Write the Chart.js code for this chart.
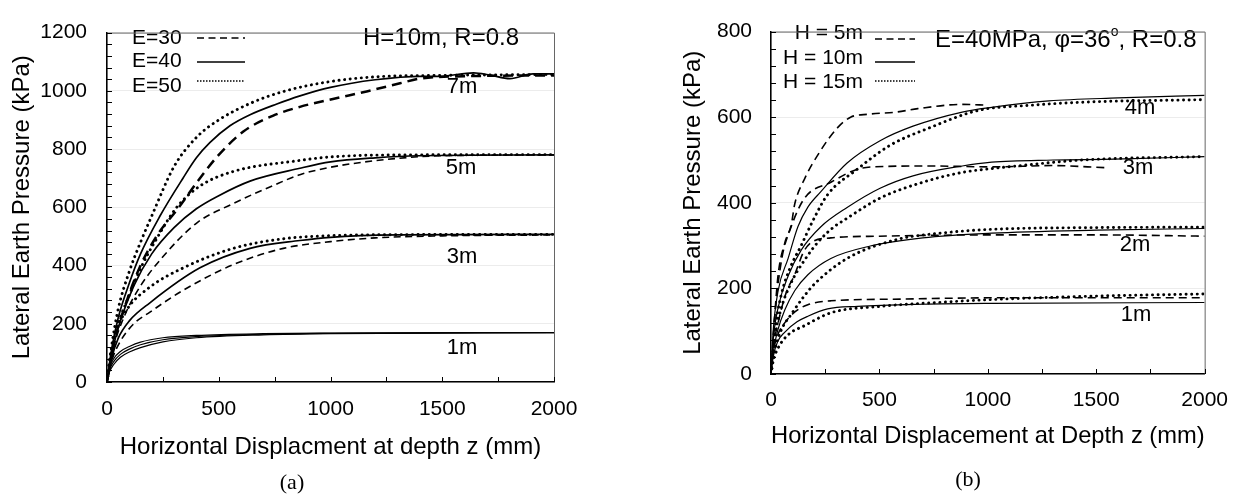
<!DOCTYPE html>
<html>
<head>
<meta charset="utf-8">
<script src="https://cdn.jsdelivr.net/npm/chart.js@4.4.1/dist/chart.umd.min.js"></script>
<style>
  html, body { margin: 0; padding: 0; background: #fff; }
  .wrap { position: relative; width: 1242px; height: 495px; }
  .panel { position: absolute; top: 0; height: 495px; }
  #panelA { left: 0; width: 610px; }
  #panelB { left: 610px; width: 632px; }
</style>
</head>
<body>
<div class="wrap">
  <div class="panel" id="panelA"><canvas id="chartA" width="610" height="495"></canvas></div>
  <div class="panel" id="panelB"><canvas id="chartB" width="632" height="495"></canvas></div>
</div>
<script>
// ---- (a) H=10m, R=0.8 : depth 1/3/5/7 m, E = 30/40/50 MPa  [displacement mm, pressure kPa]
const a1_E30 = [[0,0],[10,32],[30,60],[60,85],[100,103],[150,118],[250,138],[400,152],[700,162],[1000,166],[2000,169]];
const a1_E40 = [[0,0],[10,38],[30,70],[60,95],[100,113],[150,128],[250,145],[400,156],[700,164],[1000,167],[2000,170]];
const a1_E50 = [[0,0],[10,45],[30,80],[60,105],[100,122],[150,137],[250,152],[400,160],[700,166],[1000,168],[2000,170]];

const a3_E30 = [[0,0],[20,70],[60,140],[120,200],[192,240],[341,315],[565,403],[789,459],[1000,482],[1200,495],[1500,502],[2000,505]];
const a3_E40 = [[0,0],[20,80],[50,150],[100,210],[192,272],[416,392],[640,459],[863,486],[1000,497],[1300,505],[2000,507]];
const a3_E50 = [[0,0],[15,90],[40,170],[90,250],[192,326],[341,392],[565,459],[789,492],[983,502],[1300,506],[2000,507]];

const a5_E30 = [[0,0],[30,120],[80,230],[150,330],[250,430],[401,546],[565,613],[744,675],[863,712],[983,735],[1200,760],[1490,777],[2000,780]];
const a5_E40 = [[0,0],[25,110],[60,210],[120,330],[200,440],[300,530],[400,595],[500,640],[640,690],[863,734],[1000,756],[1200,770],[1400,777],[2000,780]];
const a5_E50 = [[0,0],[20,110],[50,200],[90,280],[150,390],[222,492],[312,600],[416,673],[565,723],[863,761],[983,772],[1200,779],[2000,781]];

const a7_E30 = [[0,0],[30,130],[80,260],[150,400],[230,510],[312,590],[416,700],[500,780],[610,860],[744,915],[863,945],[1011,972],[1162,998],[1311,1026],[1400,1042],[1600,1050],[2000,1053]];
const a7_E40 = [[0,0],[20,110],[50,220],[100,340],[150,440],[237,570],[340,700],[400,770],[460,822],[550,880],[640,918],[760,955],[860,982],[1000,1012],[1200,1038],[1400,1050],[1490,1050],[1640,1062],[1714,1054],[1803,1042],[1906,1058],[2000,1058]];
const a7_E50 = [[0,0],[20,120],[50,250],[100,380],[150,480],[200,570],[300,740],[400,840],[500,900],[650,960],[800,1000],[1000,1032],[1200,1048],[1500,1053],[2000,1056]];

// ---- (b) E=40MPa, phi=36, R=0.8 : depth 1/2/3/4 m, H = 5/10/15 m
const b1_H5  = [[0,0],[10,50],[30,90],[64,120],[110,145],[170,162],[276,171],[600,175],[1018,178],[2000,178]];
const b1_H10 = [[0,0],[10,40],[30,75],[64,98],[120,122],[170,135],[261,152],[400,158],[700,163],[1018,165],[2000,167]];
const b1_H15 = [[0,0],[10,30],[33,61],[80,92],[155,113],[276,143],[503,158],[800,168],[1018,174],[1500,182],[2000,187]];

const b2_H5  = [[0,0],[10,60],[33,120],[70,190],[109,232],[150,285],[185,307],[276,318],[500,322],[1018,325],[1500,325],[2000,322]];
const b2_H10 = [[0,0],[10,50],[30,100],[64,150],[110,195],[170,232],[276,270],[458,299],[700,318],[1018,329],[1500,336],[2000,340]];
const b2_H15 = [[0,0],[15,50],[45,100],[94,140],[150,180],[200,210],[351,270],[579,314],[800,330],[1018,338],[1500,342],[2000,343]];

const b3_H5  = [[0,0],[20,150],[50,270],[90,340],[155,411],[276,448],[395,478],[473,484],[730,486],[1018,484],[1300,487],[1541,482]];
const b3_H10 = [[0,0],[10,80],[35,160],[80,230],[140,290],[230,344],[351,389],[503,434],[655,463],[882,486],[1018,495],[1300,500],[1586,502],[2000,508]];
const b3_H15 = [[0,0],[10,60],[40,140],[90,210],[160,270],[220,310],[291,344],[336,359],[503,411],[700,448],[882,471],[1018,480],[1132,486],[1435,500],[2000,508]];

const b4_H5  = [[0,0],[15,120],[33,232],[64,307],[94,350],[109,396],[155,456],[230,523],[306,575],[367,600],[450,607],[579,612],[677,620],[882,630],[1000,628]];
const b4_H10 = [[0,0],[10,100],[33,195],[79,270],[124,344],[170,390],[230,426],[351,493],[503,545],[655,579],[882,612],[1018,623],[1282,638],[1600,645],[2000,651]];
const b4_H15 = [[0,0],[15,90],[45,180],[90,250],[139,300],[190,355],[261,419],[397,478],[548,534],[730,575],[958,616],[1200,628],[1435,635],[2000,641]];

const legendA = ['E=30', 'E=40', 'E=50'];
const legendB = ['H = 5m', 'H = 10m', 'H = 15m'];
const depthA = ['1m', '3m', '5m', '7m'];
const depthB = ['1m', '2m', '3m', '4m'];

Chart.defaults.font.family = '"Liberation Sans", Arial, Helvetica, sans-serif';
Chart.defaults.color = '#000';
Chart.defaults.animation = false;

const STYLES = {
  dash:  { borderDash: [7, 4.5], borderWidth: 1.6 },
  dashB: { borderDash: [8, 5], borderWidth: 1.6 },
  dashH: { borderDash: [10, 6], borderWidth: 2.5 },
  solid: { borderDash: [], borderWidth: 1.7 },
  thin:  { borderDash: [], borderWidth: 1.2 },
  dot:   { borderDash: [0.1, 5.5], borderWidth: 2.9, borderCapStyle: 'round' }
};

function series(points, style) {
  return Object.assign({
    data: points.map(p => ({ x: p[0], y: p[1] })),
    borderColor: '#000',
    pointRadius: 0,
    fill: false,
    cubicInterpolationMode: 'monotone'
  }, STYLES[style]);
}

// inward minor ticks + gray frame on top/right
const frameTicks = {
  id: 'frameTicks',
  afterDraw(chart, args, o) {
    const { ctx, chartArea: a, scales: { x, y } } = chart;
    ctx.save();
    ctx.strokeStyle = '#666';
    ctx.lineWidth = 1;
    ctx.beginPath();
    ctx.moveTo(a.left, a.top + 0.5); ctx.lineTo(a.right + 0.5, a.top + 0.5);
    ctx.lineTo(a.right + 0.5, a.bottom);
    ctx.stroke();
    ctx.strokeStyle = '#000';
    ctx.beginPath();
    for (let v = x.min; v <= x.max; v += o.xMinor) {
      const px = Math.round(x.getPixelForValue(v)) + 0.5;
      ctx.moveTo(px, a.bottom); ctx.lineTo(px, a.bottom - 5);
    }
    for (let v = y.min; v <= y.max; v += o.yMinor) {
      const py = Math.round(y.getPixelForValue(v)) + 0.5;
      ctx.moveTo(a.left, py); ctx.lineTo(a.left + 5, py);
    }
    ctx.stroke();
    ctx.restore();
  }
};

// legend samples, notes and depth labels
const notes = {
  id: 'notes',
  afterDatasetsDraw(chart, args, o) {
    const { ctx } = chart;
    ctx.save();
    ctx.fillStyle = '#000';
    ctx.textBaseline = 'middle';
    ctx.font = '21px "Liberation Sans", Arial';
    ctx.textAlign = o.legend.align;
    const samples = [STYLES.dash, STYLES.solid, { borderDash: [1.5, 1.5], borderWidth: 1.6 }];
    o.legend.items.forEach((t, i) => {
      const r = o.legend.rows[i];
      ctx.fillText(t, o.legend.textX, r[0]);
      ctx.beginPath();
      ctx.setLineDash(samples[i].borderDash);
      ctx.lineWidth = samples[i].borderWidth;
      ctx.strokeStyle = '#000';
      ctx.moveTo(o.legend.x0, r[1]); ctx.lineTo(o.legend.x1, r[1]);
      ctx.stroke();
    });
    ctx.setLineDash([]);
    ctx.font = '22px "Liberation Sans", Arial';
    ctx.textAlign = 'center';
    o.depths.forEach(d => ctx.fillText(d.text, d.x, d.y));
    const big = '24px "Liberation Sans", Arial';
    ctx.font = big;
    ctx.textAlign = 'left';
    let cx = o.note.x;
    o.note.parts.forEach(p => {
      if (p.sup) {
        ctx.font = '14px "Liberation Sans", Arial';
        ctx.fillText(p.text, cx, o.note.y - 8);
        cx += ctx.measureText(p.text).width;
        ctx.font = big;
      } else {
        ctx.fillText(p.text, cx, o.note.y);
        cx += ctx.measureText(p.text).width;
      }
    });
    ctx.font = '22px "Liberation Serif", "Times New Roman", serif';
    ctx.textAlign = 'center';
    ctx.fillText(o.tag.text, o.tag.x, o.tag.y);
    ctx.restore();
  }
};

function axes(cfg) {
  return {
    x: {
      type: 'linear', min: 0, max: 2000,
      afterFit: s => { s.height = cfg.xHeight; },
      ticks: { stepSize: 500, padding: cfg.xPad, font: { size: 21 }, maxRotation: 0, callback: v => String(v) },
      grid: { drawOnChartArea: false, drawTicks: false },
      border: { color: '#000', width: 1.6 },
      title: { display: true, text: cfg.xTitle, font: { size: 24 }, padding: { top: 0, bottom: cfg.xTitlePad } }
    },
    y: {
      type: 'linear', min: 0, max: cfg.yMax,
      afterFit: s => { s.width = cfg.yWidth; },
      ticks: { stepSize: 200, padding: cfg.yPad, font: { size: 21 }, callback: v => String(v) },
      grid: { color: '#ececec', drawTicks: false },
      border: { color: '#000', width: 1.6 },
      title: { display: true, text: 'Lateral Earth Pressure (kPa)', font: { size: 24 }, padding: { top: cfg.yTitlePad, bottom: 0 } }
    }
  };
}

new Chart(document.getElementById('chartA'), {
  type: 'line',
  data: {
    datasets: [
      series(a1_E30, 'thin'), series(a1_E40, 'thin'), series(a1_E50, 'thin'),
      series(a3_E30, 'dash'), series(a3_E40, 'solid'), series(a3_E50, 'dot'),
      series(a5_E30, 'dash'), series(a5_E40, 'solid'), series(a5_E50, 'dot'),
      series(a7_E30, 'dashH'), series(a7_E40, 'solid'), series(a7_E50, 'dot')
    ]
  },
  plugins: [frameTicks, notes],
  options: {
    responsive: false,
    layout: { padding: { top: 19, right: 56, bottom: 0, left: 0 } },
    scales: axes({ xTitle: 'Horizontal Displacment at depth z (mm)', yMax: 1200, xHeight: 113, yWidth: 107,
                   xPad: 15, yPad: 20, xTitlePad: 33, yTitlePad: 8 }),
    plugins: {
      legend: { display: false },
      tooltip: { enabled: false },
      frameTicks: { xMinor: 250, yMinor: 40 },
      notes: {
        legend: { items: legendA, align: 'left', textX: 132, x0: 197, x1: 245, rows: [[38, 38], [61, 62], [86, 81]] },
        depths: [
          { text: depthA[3], x: 462, y: 87 }, { text: depthA[2], x: 461, y: 168 },
          { text: depthA[1], x: 462, y: 257 }, { text: depthA[0], x: 462, y: 348 }
        ],
        note: { x: 363, y: 38, parts: [{ text: 'H=10m, R=0.8' }] },
        tag: { text: '(a)', x: 292, y: 483 }
      }
    }
  }
});

new Chart(document.getElementById('chartB'), {
  type: 'line',
  data: {
    datasets: [
      series(b1_H5, 'dashB'), series(b1_H10, 'thin'), series(b1_H15, 'dot'),
      series(b2_H5, 'dashB'), series(b2_H10, 'thin'), series(b2_H15, 'dot'),
      series(b3_H5, 'dashB'), series(b3_H10, 'thin'), series(b3_H15, 'dot'),
      series(b4_H5, 'dashB'), series(b4_H10, 'thin'), series(b4_H15, 'dot')
    ]
  },
  plugins: [frameTicks, notes],
  options: {
    responsive: false,
    layout: { padding: { top: 16, right: 31, bottom: 0, left: 0 } },
    scales: axes({ xTitle: 'Horizontal Displacement at Depth z (mm)', yMax: 800, xHeight: 121, yWidth: 161,
                   xPad: 14, yPad: 19, xTitlePad: 44, yTitlePad: 69 }),
    plugins: {
      legend: { display: false },
      tooltip: { enabled: false },
      frameTicks: { xMinor: 250, yMinor: 40 },
      notes: {
        legend: { items: legendB, align: 'right', textX: 253, x0: 265, x1: 305, rows: [[33, 39], [58, 62], [82, 81]] },
        depths: [
          { text: depthB[3], x: 530, y: 108 }, { text: depthB[2], x: 528, y: 168 },
          { text: depthB[1], x: 525, y: 245 }, { text: depthB[0], x: 526, y: 315 }
        ],
        note: { x: 325, y: 40, parts: [{ text: 'E=40MPa, \u03C6=36' }, { text: 'o', sup: true }, { text: ', R=0.8' }] },
        tag: { text: '(b)', x: 358, y: 480 }
      }
    }
  }
});
</script>
</body>
</html>
